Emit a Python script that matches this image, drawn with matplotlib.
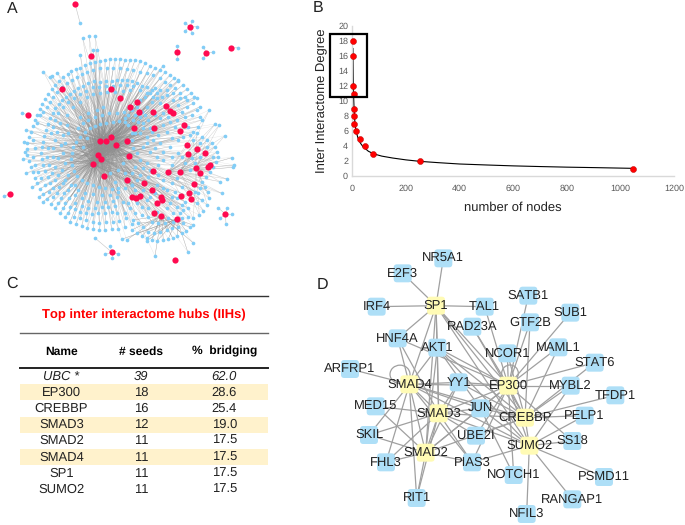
import matplotlib
matplotlib.use('Agg')
import matplotlib.pyplot as plt
from matplotlib.patches import FancyBboxPatch, Rectangle, Ellipse

plt.rcParams['font.family'] = ['Liberation Sans', 'DejaVu Sans']
plt.rcParams['text.hinting'] = 'no_hinting'
plt.rcParams['text.hinting_factor'] = 1

W, H = 685, 525

red_nodes = [(225,11),(571,81),(531,156),(619,158),(694,144),(272,168),(186,267),(332,268),(84,345),(361,294),
             (411,305),(389,320),(416,335),(459,337),(497,318),(509,332),(520,338),(552,375),(541,392),(401,385),
             (463,383),(332,412),(301,422),(319,423),(347,434),(380,424),(293,466),(302,478),(280,493),(386,467),
             (313,527),(380,539),(560,434),(592,446),(565,461),(614,459),(630,494),(624,501),(588,504),(599,520),
             (460,513),(504,516),(540,515),(433,550),(582,552),(456,571),(566,578),(544,587),(572,598),(395,590),
             (409,595),(421,588),(482,590),(487,601),(470,609),(462,639),(484,647),(531,657),(676,642),(336,757),
             (526,781),(30,581)]
hubs_main = [(301,422),(319,423),(347,434),(293,466),(302,478),(280,493)]
hubs_right = [(504,516),(540,515),(588,504)]
hubs_bottom = [(484,647),(531,657)]

blue_outer = [(345,177),(330,178),(315,180),(300,183),(285,187),(270,190),(255,196),(240,203),(228,208),(213,213),
              (203,222),(190,232),(178,243),(165,254),(155,268),(145,281),(135,297),(127,312),(120,328),(110,345),
              (104,360),(98,378),(92,395),(86,412),(82,430),(80,447),(82,465),(86,483),(92,500),(98,517),
              (105,534),(112,550),(120,566),(130,583),(140,598),(152,612),(165,625),(180,640),(195,652),(210,665),
              (228,672),(245,678),(262,684),(280,688),(298,690),(315,690),(335,688),(355,686),(375,680),(395,673),
              (360,177),(375,179),(390,181),(405,181),(420,184),(435,190),(450,197),(465,203),(480,210),(495,217),
              (510,225),(522,235),(535,243),(548,255),(560,268),(572,280),(583,292),(592,293),(78,390),(72,425),
              (76,455),(68,477),(78,520),(96,562),(118,590),(130,605),(150,230),(130,215),(155,228),(172,218)]
blue_between = [(112,370),(120,345),(130,335),(140,320),(150,305),(160,290),(172,275),(185,262),(200,250),(215,240),
                (230,230),(245,222),(262,215),(280,210),(300,205),(320,205),(340,205),(360,205),(380,207),(400,210),
                (420,215),(440,220),(460,225),(480,235),(495,245),(510,255),(525,265),(540,280),(555,290),(100,420),
                (105,445),(100,470),(106,495),(115,515),(122,535),(135,555),(148,575),(160,590),(175,610),(190,625),
                (205,640),(222,650),(240,655),(258,660),(278,665),(298,668),(318,667),(338,665),(358,662),(378,655)]
blue_second = [(380,240),(365,240),(350,241),(335,242),(318,243),(300,246),(283,243),(265,250),(250,258),(235,265),
               (222,272),(210,282),(198,290),(186,300),(176,312),(166,325),(158,340),(150,355),(145,372),(138,390),
               (133,408),(128,425),(125,442),(122,460),(126,478),(130,495),(136,512),(143,530),(150,548),(160,565),
               (170,580),(182,595),(195,608),(210,620),(225,628),(240,635),(258,640),(275,643),(295,640),(315,640),
               (335,635),(352,640),(395,243),(410,250),(425,258),(440,262),(455,270),(470,280),(485,290),(500,285),
               (145,445),(142,470),(148,495),(155,520),(165,540),(178,560),(192,580),(208,595),(225,610),(245,618),
               (265,623),(285,625),(305,622),(325,620),(345,618),(152,400),(158,380),(165,360),(175,340),(188,322),
               (205,305),(222,295),(240,283),(258,272),(278,262),(298,260),(318,258),(340,258),(360,256),(380,255),
               (400,258),(420,270),(440,278),(460,290)]
blue_third = [(255,395),(270,385),(285,378),(300,372),(318,368),(338,366),(358,364),(375,366),(240,410),(228,425),
              (220,442),(215,460),(212,478),(216,495),(222,512),(232,527),(245,540),(260,550),(278,556),(296,562),
              (315,565),(335,568),(355,565),(180,370),(172,395),(165,420),(160,445),(158,470),(165,500),(175,525),
              (188,548),(205,570),(225,585),(245,595),(265,602),(290,605),(315,607),(340,603),(200,345),(220,320),
              (240,305),(260,292),(280,283),(300,280),(320,276),(345,275),(370,272),(390,270),(262,415),(250,440),
              (352,590),(370,605),(330,520),(355,510),(370,490),(240,350),(265,340),(290,330),(310,320),(205,400),
              (195,430),(190,460),(195,490),(205,525),(225,555),(395,400),(400,445),(235,385),(248,370),(265,360),
              (285,352),(305,345),(328,340),(350,338),(372,335),(200,375),(190,405),(182,435),(175,475),(185,510),
              (195,540),(212,555),(235,570),(255,578),(280,582),(305,585),(330,585),(355,575),(375,565),(395,555),
              (405,570),(375,520),(345,545)]
blue_inner = [(395,330),(405,345),(420,350),(435,345),(445,360),(430,370),(415,365),(400,360),(385,345),(375,355),
              (440,320),(455,305),(470,295),(480,310),(490,340),(505,350),(480,355),(465,345),(520,300),(535,315),
              (545,335),(555,350),(560,320),(575,345),(590,330),(600,350),(420,400),(440,410),(460,420),(480,430),
              (430,440),(450,455),(470,470),(490,455),(510,440),(515,415),(500,395),(525,380),(535,420),(550,410),
              (420,480),(440,490),(405,500),(395,520),(420,525),(445,530),(475,525),(490,540),(515,550),(530,535),
              (500,570),(525,575),(545,560),(470,555),(440,600),(425,620),(445,625),(510,610),(530,620),(550,630),
              (520,640),(505,655),(540,640),(565,625),(410,320),(425,335),(385,375),(450,385),(395,420),(410,460),
              (420,300),(435,290),(450,280),(465,265),(480,270),(500,270),(520,280),(540,295),(560,300),(580,310),
              (600,320),(405,400),(430,385),(455,395),(475,405),(490,375),(510,365),(530,360),(565,380),(580,395),
              (595,380),(605,360),(570,405),(440,430),(465,445),(490,480),(515,470),(535,460),(515,495),(545,470),
              (475,495),(450,510),(430,505),(410,540),(395,555),(430,570),(450,590),(465,580),(490,565),(515,590),
              (530,595),(555,605),(590,610),(605,600),(595,580),(600,565),(585,575),(545,615),(500,625),(470,635),
              (445,650),(425,645),(405,640),(390,625),(375,640),(385,610),(410,610),(455,665),(475,670),(495,670),
              (520,665),(545,655),(565,650)]
blue_right = [(590,400),(605,412),(620,420),(635,428),(645,440),(652,455),(655,470),(648,485),(640,500),(630,515),
              (618,530),(605,545),(615,560),(625,575),(628,595),(622,615),(610,632),(598,645),(580,655),(645,372),
              (658,375),(675,407),(628,330),(696,473),(703,495),(700,502),(680,537),(660,545),(665,580),(640,470),
              (620,440),(600,430),(580,420),(575,475),(585,490),(570,510),(555,490),(600,470)]
blue_bottom = [(395,690),(410,700),(425,708),(440,714),(455,720),(470,724),(490,720),(505,716),(518,714),(532,708),
               (545,700),(558,692),(570,682),(580,676),(400,660),(415,670),(430,680),(445,695),(462,700),(480,695),
               (500,690),(515,685),(535,680),(550,670),(465,768),(563,755),(580,729),(365,718),(380,720),(440,723)]
blue_top = [(248,115),(267,107),(285,107),(241,164),(280,150),(290,150),(488,198),(535,240)]

# small stars: (red node, its blue leaves)
stars = [((225,11),[(240,68)]),
         ((571,81),[(555,69),(577,62),(590,80),(555,92),(577,100)]),
         ((531,156),[(531,137),(531,176)]),
         ((619,158),[(640,157),(610,175),(610,140)]),
         ((694,144),[(714,143)]),
         ((30,581),[(12,589)]),
         ((84,345),[(66,339)]),
         ((676,642),[(655,624),(682,623),(695,643),(678,672),(660,655)]),
         ((336,757),[(316,763),(336,775),(354,762),(330,738),(285,714)])]

# panel B
degree_nodes = [3, 2, 2, 5, 5, 7, 8, 12, 27, 47, 78, 253, 1048]
degree_vals = [18, 16, 12, 11, 9, 8, 7, 6, 5, 4, 3, 2, 1]
trend_nodes = [2.5, 3, 3.5, 4, 5, 6, 8, 10, 14, 20, 30, 40, 60, 80, 110, 150, 200, 253, 320, 400, 500, 600, 700, 800, 900, 1048]
trend_vals = [17, 15, 13.2, 12, 10.5, 9.5, 8, 7, 6, 5.2, 4.4, 3.9, 3.3, 2.95, 2.65, 2.4, 2.15, 1.95, 1.78, 1.6, 1.47, 1.35, 1.26, 1.18, 1.12, 1.02]
x_ticks = [0, 200, 400, 600, 800, 1000, 1200]
y_ticks = [0, 2, 4, 6, 8, 10, 12, 14, 16, 18, 20]

# panel C
names = ['UBC *', 'EP300', 'CREBBP', 'SMAD3', 'SMAD2', 'SMAD4', 'SP1', 'SUMO2']
seeds = ['39', '18', '16', '12', '11', '11', '11', '11']
bridging = ['62.0', '28.6', '25.4', '19.0', '17.5', '17.5', '17.5', '17.5']
row_y = [319, 368, 416, 465, 513, 562, 610, 658]
shaded = [1, 3, 5]

# panel D
seed_pos = {'SP1': (378,122), 'EP300': (595,362), 'SMAD4': (298,358), 'SMAD3': (386,445),
            'CREBBP': (645,458), 'SUMO2': (658,542), 'SMAD2': (347,563)}
other_pos = {'NR5A1': (400,-20), 'E2F3': (278,25), 'IRF4': (200,125), 'TAL1': (524,125), 'SATB1': (655,92),
             'SUB1': (781,143), 'GTF2B': (660,172), 'RAD23A': (487,185), 'HNF4A': (263,220), 'AKT1': (382,248),
             'NCOR1': (592,265), 'MAML1': (745,247), 'STAT6': (854,293), 'ARFRP1': (120,312), 'YY1': (446,352),
             'MYBL2': (782,362), 'TFDP1': (916,391), 'MED15': (197,424), 'JUN': (511,430), 'PELP1': (824,452),
             'SKIL': (177,510), 'UBE2I': (498,512), 'SS18': (787,528), 'FHL3': (228,592), 'PIAS3': (486,592),
             'NOTCH1': (611,630), 'PSMD11': (882,636), 'RIT1': (320,699), 'RANGAP1': (787,703), 'NFIL3': (650,747)}
edges = [('SP1','NR5A1'),('SP1','E2F3'),('SP1','IRF4'),('SP1','TAL1'),('SP1','HNF4A'),('SP1','AKT1'),('SP1','SMAD4'),
         ('SP1','EP300'),('SP1','CREBBP'),('SP1','SMAD3'),('SP1','SUMO2'),
         ('EP300','TAL1'),('EP300','RAD23A'),('EP300','SATB1'),('EP300','GTF2B'),('EP300','SUB1'),('EP300','NCOR1'),
         ('EP300','MAML1'),('EP300','STAT6'),('EP300','HNF4A'),('EP300','AKT1'),('EP300','YY1'),('EP300','MYBL2'),
         ('EP300','SMAD4'),('EP300','SMAD3'),('EP300','SMAD2'),('EP300','JUN'),('EP300','CREBBP'),('EP300','SUMO2'),
         ('EP300','NOTCH1'),('EP300','UBE2I'),('EP300','PIAS3'),('EP300','SS18'),
         ('CREBBP','RAD23A'),('CREBBP','GTF2B'),('CREBBP','NCOR1'),('CREBBP','MAML1'),('CREBBP','STAT6'),('CREBBP','MYBL2'),
         ('CREBBP','TFDP1'),('CREBBP','PELP1'),('CREBBP','SMAD4'),('CREBBP','SMAD3'),('CREBBP','SMAD2'),('CREBBP','JUN'),
         ('CREBBP','YY1'),('CREBBP','SUMO2'),('CREBBP','AKT1'),('CREBBP','UBE2I'),
         ('SUMO2','MYBL2'),('SUMO2','PELP1'),('SUMO2','SS18'),('SUMO2','PSMD11'),('SUMO2','RANGAP1'),('SUMO2','NFIL3'),
         ('SUMO2','PIAS3'),('SUMO2','SMAD4'),('SUMO2','SMAD3'),('SUMO2','JUN'),('SUMO2','AKT1'),
         ('SMAD4','ARFRP1'),('SMAD4','HNF4A'),('SMAD4','AKT1'),('SMAD4','YY1'),('SMAD4','SMAD3'),('SMAD4','SMAD2'),
         ('SMAD4','FHL3'),('SMAD4','SKIL'),('SMAD4','JUN'),('SMAD4','PIAS3'),('SMAD4','RIT1'),
         ('SMAD3','HNF4A'),('SMAD3','AKT1'),('SMAD3','YY1'),('SMAD3','MED15'),('SMAD3','JUN'),('SMAD3','SKIL'),
         ('SMAD3','SMAD2'),('SMAD3','FHL3'),('SMAD3','UBE2I'),('SMAD3','PIAS3'),('SMAD3','RIT1'),
         ('SMAD2','MED15'),('SMAD2','SKIL'),('SMAD2','FHL3'),('SMAD2','RIT1'),('SMAD2','PIAS3'),('SMAD2','AKT1'),
         ('SMAD2','YY1'),('SMAD2','JUN'),('SP1','SMAD2'),('JUN','NOTCH1'),('AKT1','JUN')]


def panel_axes(fig, left, top, width, height, xlim, ylim):
    ax = fig.add_axes([left / W, 1 - (top + height) / H, width / W, height / H])
    ax.set_xlim(*xlim)
    ax.set_ylim(*ylim)
    ax.axis('off')
    ax.patch.set_alpha(0)
    return ax


fig = plt.figure(figsize=(W / 100, H / 100), dpi=100)

# A
ax = panel_axes(fig, 0, 0, 300, 270, (0, 900), (810, 0))
groups = [(blue_outer, hubs_main), (blue_between, hubs_main), (blue_second, hubs_main), (blue_third, hubs_main),
          (blue_inner, hubs_main), (blue_top, hubs_main), (blue_right, hubs_right), (blue_bottom, hubs_bottom)]
for nodes, hubs in groups:
    for i, (x, y) in enumerate(nodes):
        for k in range(2):
            hx, hy = hubs[(i + k * 2) % len(hubs)]
            ax.plot([x, hx], [y, hy], color='#8f8f8f', lw=0.3, alpha=0.45, zorder=1)
        if hubs is not hubs_main:
            hx, hy = hubs_main[i % len(hubs_main)]
            ax.plot([x, hx], [y, hy], color='#9a9a9a', lw=0.25, alpha=0.3, zorder=1)
    ax.scatter([p[0] for p in nodes], [p[1] for p in nodes], s=7, color='#82CDF6', linewidths=0, zorder=2)
for centre, leaves in stars:
    for x, y in leaves:
        ax.plot([x, centre[0]], [y, centre[1]], color='#c4c4c4', lw=0.4, zorder=1)
    ax.scatter([p[0] for p in leaves], [p[1] for p in leaves], s=7, color='#82CDF6', linewidths=0, zorder=2)
ax.scatter([p[0] for p in red_nodes], [p[1] for p in red_nodes], s=20, color='#FF0A50', linewidths=0, zorder=3)

# B
ax = fig.add_axes([352.3 / W, 1 - 176 / H, 321.7 / W, 150 / H])
ax.plot(trend_nodes, trend_vals, color='black', lw=0.8, zorder=2)
ax.scatter(degree_nodes, degree_vals, s=19, color='#FF0000', edgecolors='#B00000', linewidths=0.3, zorder=3, clip_on=False)
ax.add_patch(Rectangle((-83, 10.5), 138, 8.5, fill=False, edgecolor='black', lw=1.6, clip_on=False, zorder=4))
ax.set_xlim(0, 1200)
ax.set_ylim(0, 20)
ax.set_xticks(x_ticks)
ax.set_yticks(y_ticks)
ax.tick_params(length=0, labelsize=6.4, labelcolor='#595959')
ax.tick_params(axis='x', pad=6)
ax.tick_params(axis='y', pad=3)
for s in ['top', 'right']:
    ax.spines[s].set_visible(False)
for s in ['left', 'bottom']:
    ax.spines[s].set_color('#D9D9D9')
    ax.spines[s].set_linewidth(1)
ax.set_xlabel('number of nodes', fontsize=9.7, labelpad=6, color='#222222')
ax.set_ylabel('Inter Interactome Degree', fontsize=9.6, labelpad=7, color='#222222')

# C
ax = panel_axes(fig, 0, 270, 300, 255, (0, 900), (765, 0))
for i in shaded:
    ax.add_patch(Rectangle((60, row_y[i] - 25), 743, 48, color='#FFF2CC', lw=0, zorder=0))
ax.plot([60, 803], [77, 77], color='#333333', lw=1)
ax.plot([60, 803], [190, 190], color='#666666', lw=1)
ax.plot([60, 803], [295, 295], color='#222222', lw=1.4)
ax.text(432, 134, 'Top inter interactome hubs (IIHs)', color='#FF0000', fontsize=9.2, fontweight='bold', ha='center', va='center')
ax.text(184, 245, 'Name', fontsize=8.9, fontweight='bold', ha='center', va='center')
ax.text(423, 245, '# seeds', fontsize=8.9, fontweight='bold', ha='center', va='center')
ax.text(673, 245, '%  bridging', fontsize=8.9, fontweight='bold', ha='center', va='center')
for i, y in enumerate(row_y):
    style = 'italic' if i == 0 else 'normal'
    ax.text(184, y, names[i], fontsize=9.3, style=style, ha='center', va='center', color='#222222')
    ax.text(423, y, seeds[i], fontsize=9.3, style=style, ha='center', va='center', color='#222222')
    ax.text(673, y, bridging[i], fontsize=9.3, style=style, ha='center', va='center', color='#222222')

# D
ax = panel_axes(fig, 310, 245, 375, 280, (0, 1125), (780, -60))
all_pos = {**seed_pos, **other_pos}
for a, b in edges:
    ax.plot([all_pos[a][0], all_pos[b][0]], [all_pos[a][1], all_pos[b][1]], color='#a0a0a0', lw=0.9, zorder=1)
ax.add_patch(Ellipse((270, 328), 60, 55, fill=False, edgecolor='#a0a0a0', lw=0.9, zorder=1))
ax.add_patch(Ellipse((600, 325), 50, 50, fill=False, edgecolor='#a0a0a0', lw=0.9, zorder=1))
for pos, colour in [(other_pos, '#AEDFF7'), (seed_pos, '#FFFBB5')]:
    for name, (x, y) in pos.items():
        ax.add_patch(FancyBboxPatch((x - 18, y - 18), 36, 36, boxstyle='round,pad=9,rounding_size=10',
                                    facecolor=colour, edgecolor='none', zorder=2))
for name, (x, y) in all_pos.items():
    ax.text(x, y, name, fontsize=9.6, ha='center', va='center', color='#222222', zorder=3)

# panel letters
for letter, x, y in [('A', 12, 9), ('B', 318, 8), ('C', 12, 284), ('D', 322, 285)]:
    fig.text(x / W, 1 - y / H, letter, fontsize=11.5, ha='center', va='center', color='#222222')

fig.savefig('out.png', dpi=100)
